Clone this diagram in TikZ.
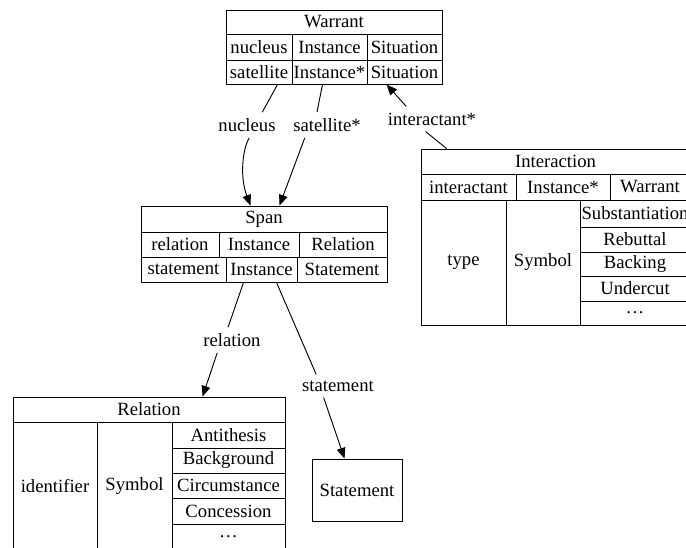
\documentclass[tikz,border=0pt]{standalone}
\usepackage{fontspec}
\setmainfont{Liberation Serif}
\usetikzlibrary{arrows.meta,calc}

% one cell of a record: name, x1, y1, x2, y2, text
\newcommand{\tcell}[6]{\node[cell, minimum width={(#4-#2)*0.75pt}, minimum height={(#5-#3)*0.75pt}] (#1) at ({(#2+#4)/2},{(#3+#5)/2}) {#6};}

\begin{document}
\begin{tikzpicture}[x=0.75pt, y=-0.75pt,
    font=\fontsize{14}{16}\selectfont,
    cell/.style = {draw, line width=0.7pt, inner sep=0pt},
    lbl/.style = {inner xsep=2pt, inner ysep=4.5pt},
    edge/.style = {line width=0.7pt},
    tip/.style = {-{Triangle[length=8pt,width=6.5pt]}}]
		\useasboundingbox (0,0) rectangle (686,548);
		\clip (0,0) rectangle (686,548);
		% Warrant
		\tcell{wtitle}{226}{10}{442}{34}{Warrant}
		\tcell{wnuc}{226}{34}{292}{60}{nucleus}
		\tcell{wins1}{292}{34}{367}{60}{Instance}
		\tcell{wsit1}{367}{34}{442}{60}{Situation}
		\tcell{wsat}{226}{60}{292}{84}{satellite}
		\tcell{wins2}{292}{60}{367}{84}{Instance*}
		\tcell{wsit2}{367}{60}{442}{84}{Situation}
		% Span
		\tcell{sptitle}{141}{206}{387}{232}{Span}
		\tcell{srel1}{141}{232}{219}{257}{relation}
		\tcell{sins1}{219}{232}{299}{257}{Instance}
		\tcell{srel2}{299}{232}{387}{257}{Relation}
		\tcell{sstm1}{141}{257}{226}{282}{statement}
		\tcell{sins2}{226}{257}{297}{282}{Instance}
		\tcell{sstm2}{297}{257}{387}{282}{Statement}
		% Interaction
		\tcell{ititle}{421}{149}{690}{174}{Interaction}
		\tcell{iint}{421}{174}{516}{200}{interactant}
		\tcell{iins}{516}{174}{610}{200}{Instance*}
		\tcell{iwar}{610}{174}{690}{200}{Warrant}
		\tcell{itype}{421}{200}{506}{325}{type}
		\tcell{isym}{506}{200}{580}{325}{Symbol}
		\tcell{iv1}{580}{200}{690}{227}{Substantiation}
		\tcell{iv2}{580}{227}{690}{252}{Rebuttal}
		\tcell{iv3}{580}{252}{690}{276}{Backing}
		\tcell{iv4}{580}{276}{690}{301}{Undercut}
		\tcell{iv5}{580}{301}{690}{325}{…}
		% Relation
		\tcell{rtitle}{13}{397}{285}{422}{Relation}
		\tcell{rid}{13}{422}{97}{550}{identifier}
		\tcell{rsym}{97}{422}{172}{550}{Symbol}
		\tcell{rv1}{172}{422}{285}{448}{Antithesis}
		\tcell{rv2}{172}{448}{285}{473}{Background}
		\tcell{rv3}{172}{473}{285}{498}{Circumstance}
		\tcell{rv4}{172}{498}{285}{524}{Concession}
		\tcell{rv5}{172}{524}{285}{550}{…}
		% Statement
		\tcell{stmt}{312}{459}{402}{521}{Statement}
		% edge labels
		\node[lbl] (lnuc) at (247,125) {nucleus};
		\node[lbl] (lsat) at (327,125) {satellite*};
		\node[lbl] (lint) at (432,119) {interactant*};
		\node[lbl] (lrel) at (232,340) {relation};
		\node[lbl] (lstm) at (338,386) {statement};
		% edges
		\draw[edge] ($(wsat.south west)+(52,0)$) -- (lnuc.40);
		\draw[edge,tip] (lnuc.-80) .. controls (242,150) and (240,178) .. ($(sptitle.north west)+(110,0)$);
		\draw[edge] ($(wins2.south west)+(31,0)$) -- (lsat.128);
		\draw[edge,tip] (lsat.-150) -- ($(sptitle.north west)+(139,0)$);
		\draw[edge] ($(ititle.north west)+(26,0)$) -- (lint.-117);
		\draw[edge,tip] (lint.154) -- ($(wsit2.south west)+(20,0)$);
		\draw[edge] ($(sins2.south west)+(18,0)$) -- (lrel.107);
		\draw[edge,tip] (lrel.-139) -- ($(rtitle.north west)+(190,0)$);
		\draw[edge] ($(sins2.south west)+(51,0)$) -- (lstm.152);
		\draw[edge,tip] (lstm.-141) -- ($(stmt.north west)+(33,0)$);
	\end{tikzpicture}
\end{document}
